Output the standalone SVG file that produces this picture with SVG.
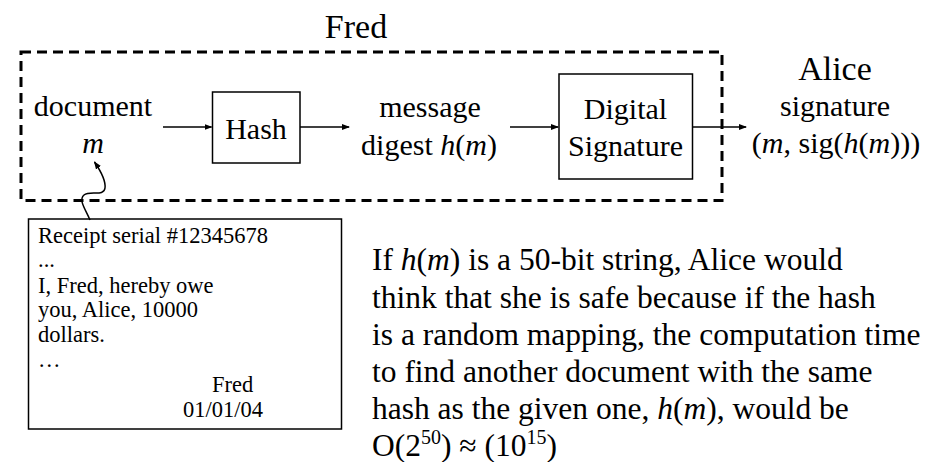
<svg xmlns="http://www.w3.org/2000/svg" width="946" height="462" viewBox="0 0 946 462" font-family="'Liberation Serif', 'Times New Roman', serif">
<style>
text{font-family:'Liberation Serif','Times New Roman',serif;fill:#000}
.l{font-size:30px;text-anchor:middle}
.t{font-size:34px;text-anchor:middle}
.r{font-size:22.5px}
.p{font-size:31.5px}
.i{font-style:italic}
.box{fill:#fff;stroke:#000;stroke-width:1.5}
.ln{fill:none;stroke:#000;stroke-width:1.5}
</style>
<defs>
<marker id="ah" markerWidth="8" markerHeight="8" refX="7" refY="4" orient="auto" markerUnits="userSpaceOnUse">
<path d="M0,1 L8,4 L0,7 Z" fill="#000"/>
</marker>
</defs>
<g id="fred">
<text class="t" x="356" y="38">Fred</text>
<rect x="21" y="52" width="701" height="148.5" fill="none" stroke="#000" stroke-width="3" stroke-dasharray="10 6"/>
</g>
<g id="document">
<text class="l" x="93" y="116">document</text>
<text class="l i" x="93" y="153">m</text>
</g>
<g id="hash">
<rect class="box" x="212.5" y="92" width="87.5" height="71"/>
<text class="l" x="256" y="139">Hash</text>
</g>
<g id="digest">
<text class="l" x="430" y="117">message</text>
<text class="l" x="429" y="155">digest <tspan class="i">h</tspan>(<tspan class="i">m</tspan>)</text>
</g>
<g id="digsig">
<rect class="box" x="559" y="74" width="133.5" height="105"/>
<text class="l" x="625.5" y="119">Digital</text>
<text class="l" x="625.5" y="156">Signature</text>
</g>
<g id="alice">
<text class="t" x="835" y="80">Alice</text>
<text class="l" x="835" y="116">signature</text>
<text class="l" x="836" y="153">(<tspan class="i">m</tspan>, sig(<tspan class="i">h</tspan>(<tspan class="i">m</tspan>)))</text>
</g>
<g id="receipt">
<rect class="box" x="28.5" y="219" width="313" height="210"/>
<text class="r" x="38" y="243">Receipt serial #12345678</text>
<text class="r" x="38" y="267">...</text>
<text class="r" x="38" y="293">I, Fred, hereby owe</text>
<text class="r" x="38" y="317">you, Alice, 10000</text>
<text class="r" x="38" y="342">dollars.</text>
<text class="r" x="38" y="367">…</text>
<text class="r" x="212" y="392">Fred</text>
<text class="r" x="183" y="417">01/01/04</text>
</g>
<g id="note">
<text class="p" x="372" y="270">If <tspan class="i">h</tspan>(<tspan class="i">m</tspan>) is a 50-bit string, Alice would</text>
<text class="p" x="372" y="307.5">think that she is safe because if the hash</text>
<text class="p" x="372" y="345">is a random mapping, the computation time</text>
<text class="p" x="372" y="382">to find another document with the same</text>
<text class="p" x="372" y="419">hash as the given one, <tspan class="i">h</tspan>(<tspan class="i">m</tspan>), would be</text>
<text class="p" x="372" y="456">O(2<tspan font-size="20" dy="-12">50</tspan><tspan dy="12">) ≈ (10</tspan><tspan font-size="20" dy="-12">15</tspan><tspan dy="12">)</tspan></text>
</g>
<g id="connectors">
<line class="ln" x1="163" y1="127" x2="211.5" y2="127" marker-end="url(#ah)"/>
<line class="ln" x1="300" y1="127" x2="349" y2="127" marker-end="url(#ah)"/>
<line class="ln" x1="510" y1="127" x2="558" y2="127" marker-end="url(#ah)"/>
<line class="ln" x1="692.5" y1="127" x2="746" y2="127" marker-end="url(#ah)"/>
<path class="ln" d="M90,220 C86,210 78,200 84,195 C90,190 104,197 105,188 C106,180 100,170 94.5,162" marker-end="url(#ah)"/>
</g>
</svg>
